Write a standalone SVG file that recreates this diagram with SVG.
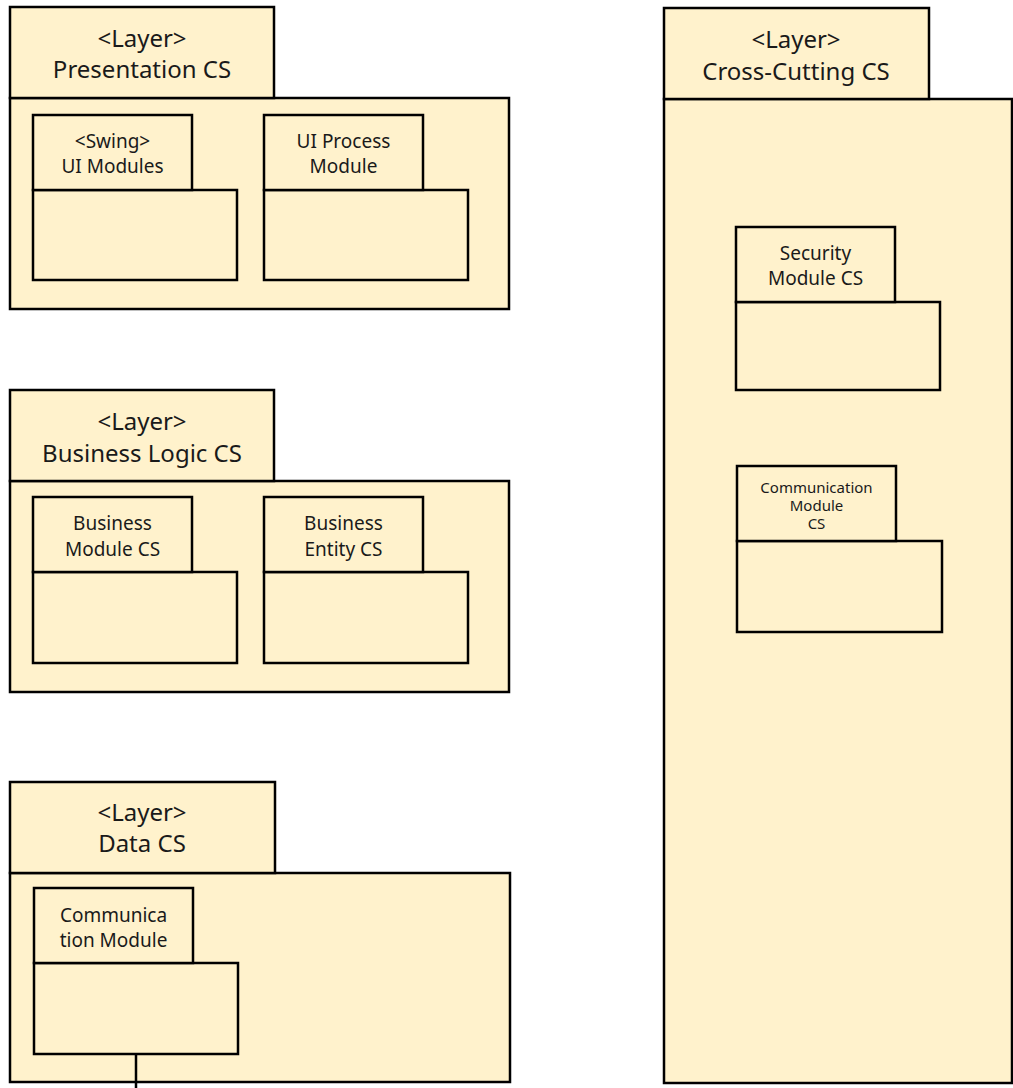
<svg xmlns="http://www.w3.org/2000/svg" width="1013" height="1088" viewBox="0 0 1013 1088">
<style>
.box{fill:#FFF2CC;stroke:#000;stroke-width:2.5}
.t{font-family:"Noto Sans","Noto Sans CJK KR",sans-serif;fill:#1a1a1a;text-anchor:middle}
.lt{font-size:24px}
.mt{font-size:19px}
.st{font-size:15px}
.conn{stroke:#000;stroke-width:2.5;fill:none}
</style>
<rect width="1013" height="1088" fill="#fff"/>
<g id="layer-presentation">
<rect class="box" x="10" y="98" width="499" height="211"/>
<rect class="box" x="10" y="7" width="264" height="91"/>
<text class="t lt" x="142" y="47">&lt;Layer&gt;</text>
<text class="t lt" x="142" y="78">Presentation CS</text>
</g>
<g id="mod-ui">
<rect class="box" x="33" y="190" width="204" height="90"/>
<rect class="box" x="33" y="115" width="159" height="75"/>
<text class="t mt" x="112.5" y="148">&lt;Swing&gt;</text>
<text class="t mt" x="112.5" y="173">UI Modules</text>
</g>
<g id="mod-uiprocess">
<rect class="box" x="264" y="190" width="204" height="90"/>
<rect class="box" x="264" y="115" width="159" height="75"/>
<text class="t mt" x="343.5" y="148">UI Process</text>
<text class="t mt" x="343.5" y="173">Module</text>
</g>
<g id="layer-business">
<rect class="box" x="10" y="481" width="499" height="211"/>
<rect class="box" x="10" y="390" width="264" height="91"/>
<text class="t lt" x="142" y="430">&lt;Layer&gt;</text>
<text class="t lt" x="142" y="462">Business Logic CS</text>
</g>
<g id="mod-business">
<rect class="box" x="33" y="572" width="204" height="91"/>
<rect class="box" x="33" y="497" width="159" height="75"/>
<text class="t mt" x="112.5" y="530">Business</text>
<text class="t mt" x="112.5" y="556">Module CS</text>
</g>
<g id="mod-entity">
<rect class="box" x="264" y="572" width="204" height="91"/>
<rect class="box" x="264" y="497" width="159" height="75"/>
<text class="t mt" x="343.5" y="530">Business</text>
<text class="t mt" x="343.5" y="556">Entity CS</text>
</g>
<g id="layer-data">
<rect class="box" x="10" y="873" width="500" height="209"/>
<rect class="box" x="10" y="782" width="265" height="91"/>
<text class="t lt" x="142" y="821">&lt;Layer&gt;</text>
<text class="t lt" x="142" y="852">Data CS</text>
</g>
<g id="mod-comm">
<rect class="box" x="34" y="963" width="204" height="91"/>
<rect class="box" x="34" y="888" width="159" height="75"/>
<text class="t mt" x="113.5" y="922">Communica</text>
<text class="t mt" x="113.5" y="947">tion Module</text>
</g>
<g id="layer-crosscutting">
<rect class="box" x="664" y="99" width="348" height="984"/>
<rect class="box" x="664" y="8" width="265" height="91"/>
<text class="t lt" x="796" y="48">&lt;Layer&gt;</text>
<text class="t lt" x="796" y="80">Cross-Cutting CS</text>
</g>
<g id="mod-security">
<rect class="box" x="736" y="302" width="204" height="88"/>
<rect class="box" x="736" y="227" width="159" height="75"/>
<text class="t mt" x="815.5" y="260">Security</text>
<text class="t mt" x="815.5" y="285">Module CS</text>
</g>
<g id="mod-comm-cs">
<rect class="box" x="737" y="541" width="205" height="91"/>
<rect class="box" x="737" y="466" width="159" height="75"/>
<text class="t st" x="816.5" y="493">Communication</text>
<text class="t st" x="816.5" y="511">Module</text>
<text class="t st" x="816.5" y="529">CS</text>
</g>
<g id="connectors">
<line class="conn" x1="136" y1="1054" x2="136" y2="1088"/>
</g>
</svg>
